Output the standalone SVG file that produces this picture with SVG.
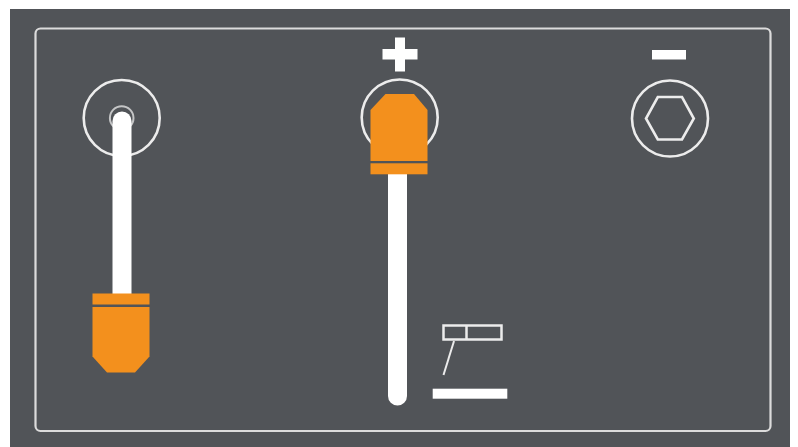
<svg xmlns="http://www.w3.org/2000/svg" width="798" height="447" viewBox="0 0 798 447">
<style>
.line{fill:none;stroke:#ececec;stroke-width:2.6}
.thin{fill:none;stroke:#c4c5c6;stroke-width:2}
.white{fill:#fff}
.orange{fill:#f3901d}
</style>
<rect width="798" height="447" fill="#fff"/>
<rect id="panel" x="10" y="9" width="780" height="438" fill="#515458"/>
<rect id="frame" x="35.500" y="28.500" width="735" height="402.500" rx="5" fill="none" stroke="#dcdcdc" stroke-width="2.200"/>
<g id="left-terminal">
<circle class="line" cx="121.700" cy="118" r="38"/>
<circle class="thin" cx="121.700" cy="118" r="11.800"/>
<path class="white" d="M112.500 294V121a9.500 9.500 0 0 1 19 0V294Z"/>
</g>
<g id="left-clamp">
<rect class="orange" x="92.500" y="293.500" width="57" height="11"/>
<path class="orange" d="M92.500 307H149.500V356.500L135 372.500H107L92.500 356.500Z"/>
</g>
<g id="positive-terminal">
<circle class="line" cx="399.700" cy="117.500" r="38"/>
<path class="white" d="M395 37.500H405V49H417.500V59.500H405V71.500H395V59.500H382.500V49H395Z"/>
</g>
<g id="center-stem">
<path class="white" d="M388 174H407V396a9.500 9.500 0 0 1-19 0Z"/>
</g>
<g id="center-clamp">
<path class="orange" d="M370.500 110L385.500 94H414L427.500 110V161H370.500Z"/>
<rect class="orange" x="370.500" y="163.300" width="57" height="11"/>
</g>
<g id="negative-terminal">
<rect class="white" x="652" y="50" width="34" height="9.500"/>
<circle class="line" cx="670" cy="118.500" r="38"/>
<path class="line" d="M657.800 97H682L693.800 118.500L682 139.500H657.800L646 118.500Z"/>
</g>
<g id="ground-symbol">
<rect x="443.500" y="325.500" width="58" height="14" fill="none" stroke="#ececec" stroke-width="2.500"/>
<path d="M466.500 325V340" fill="none" stroke="#ececec" stroke-width="2.500"/>
<path d="M454 341L443.500 375" fill="none" stroke="#ececec" stroke-width="2"/>
<rect class="white" x="432.700" y="388.700" width="74.600" height="10"/>
</g>
<g id="connectors"></g>
</svg>
